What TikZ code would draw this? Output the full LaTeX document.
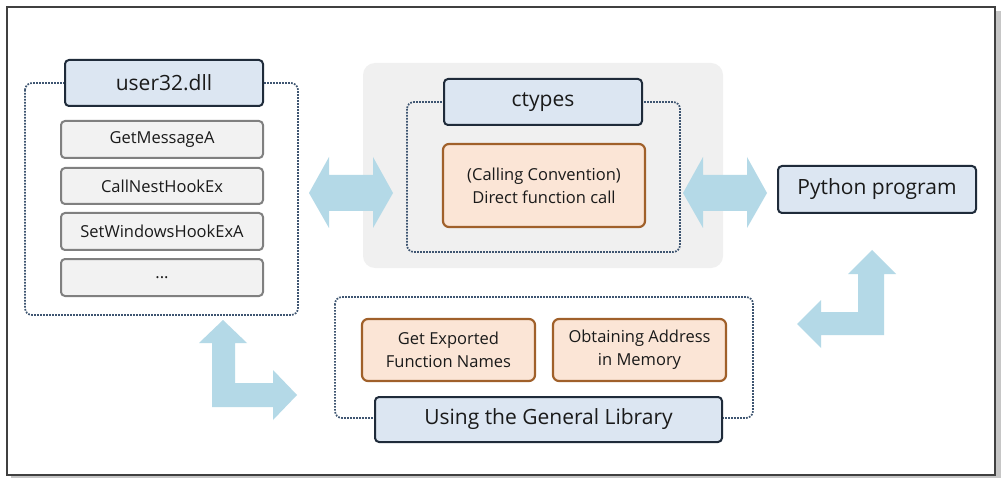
\documentclass[tikz,border=0pt]{standalone}
\usepackage{fontspec}
\setmainfont{Open Sans}
\definecolor{hdrfill}{HTML}{DCE6F2}
\definecolor{hdrdraw}{HTML}{1F2B3A}
\definecolor{itemfill}{HTML}{F2F2F2}
\definecolor{itemdraw}{HTML}{808080}
\definecolor{orfill}{HTML}{FBE5D6}
\definecolor{ordraw}{HTML}{A0602A}
\definecolor{bggray}{HTML}{F0F0F0}
\definecolor{arrowblue}{HTML}{B4D9E7}
\definecolor{dotc}{HTML}{3E5571}
\definecolor{txt}{HTML}{1A1A1A}
\tikzset{
  hdr/.style={draw=hdrdraw, fill=hdrfill, line width=2pt, rounded corners=4pt, inner sep=0pt, outer sep=0pt, text=txt, font=\fontsize{21}{24}\selectfont},
  item/.style={draw=itemdraw, fill=itemfill, line width=2pt, rounded corners=4pt, inner sep=0pt, outer sep=0pt, text=txt, font=\fontsize{16.5}{19}\selectfont},
  orbox/.style={draw=ordraw, fill=orfill, line width=2.2pt, rounded corners=6pt, inner sep=0pt, outer sep=0pt, text=txt, align=center, font=\fontsize{16.5}{23}\selectfont},
  group/.style={draw=dotc, line width=1.7pt, dash pattern=on 1.7pt off 1.3pt, rounded corners=7pt},
  blockarrow/.style={fill=arrowblue, draw=none},
}
\begin{document}
\begin{tikzpicture}[x=1pt,y=-1pt]
\useasboundingbox (0,0) rectangle (1003,478);
% frame with shadow
\fill[gray!45] (11,11) rectangle (1001,478);
\draw[fill=white, draw=gray!50!black, line width=2pt] (7,7) rectangle (995,475);

% center gray background
\fill[bggray, rounded corners=12pt] (363,63) rectangle (723,268);

% dotted groups
\draw[group] (25,83) rectangle (298,315);
\draw[group] (407,102) rectangle (680,252);
\draw[group] (335,297) rectangle (753,418);

% user32 group
\node[hdr, minimum width=198pt, minimum height=46pt] (user32) at (164,83) {user32.dll};
\node[item, minimum width=202pt, minimum height=37pt] (getmsg) at (162,139.5) {GetMessageA};
\node[item, minimum width=202pt, minimum height=36pt] (callnest) at (162,186) {CallNestHookEx};
\node[item, minimum width=202pt, minimum height=37pt] (setwin) at (162,231.5) {SetWindowsHookExA};
\node[item, minimum width=202pt, minimum height=37pt] (dots) at (162,277.5) {...};

% ctypes group
\node[hdr, minimum width=198pt, minimum height=46pt] (ctypes) at (543,102) {ctypes};
\node[orbox, minimum width=202pt, minimum height=83pt] (calling) at (544,185.5) {(Calling Convention)\\Direct function call};

% python
\node[hdr, minimum width=198pt, minimum height=47pt] (python) at (877,189.5) {Python program};

% general library group
\node[orbox, minimum width=173pt, minimum height=62pt] (getexp) at (448.5,350) {Get Exported\\Function Names};
\node[orbox, minimum width=173pt, minimum height=62pt] (obtain) at (639.5,350) {Obtaining Address\\in Memory};
\node[hdr, minimum width=347pt, minimum height=45pt] (general) at (548.5,419.5) {Using the General Library};

% block arrows
\fill[blockarrow] (309,193) -- (329,157) -- (329,175) -- (373,175) -- (373,157) -- (393,193)
  -- (373,228) -- (373,211) -- (329,211) -- (329,228) -- cycle;
\fill[blockarrow] (683,193) -- (703,157) -- (703,175) -- (747,175) -- (747,157) -- (767,193)
  -- (747,228) -- (747,211) -- (703,211) -- (703,228) -- cycle;
\fill[blockarrow] (872,250) -- (896,274) -- (884,274) -- (884,335) -- (821,335) -- (821,348)
  -- (797,324) -- (821,300) -- (821,312) -- (858,312) -- (858,274) -- (848,274) -- cycle;
\fill[blockarrow] (223,320) -- (247,343) -- (235,343) -- (235,383) -- (273,383) -- (273,370)
  -- (297,395) -- (273,420) -- (273,407) -- (212,407) -- (212,343) -- (199,343) -- cycle;
\end{tikzpicture}
\end{document}
